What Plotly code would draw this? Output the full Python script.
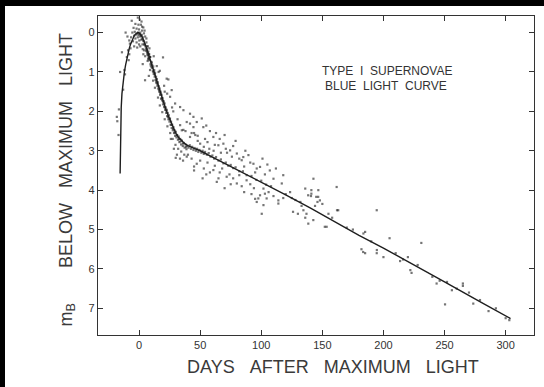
import plotly.graph_objects as go

# Mean blue light curve of Type I supernovae (days after max, mag below max)
curve_days = [-15.5, -15.3, -15.0, -14.6, -14.0, -13.0, -12.0, -11.0, -10.0, -9.0,
              -8.0, -7.0, -6.0, -5.0, -4.0, -3.0, -2.0, -1.0, 0.0, 1.0, 2.0, 3.0,
              4.5, 6.0, 8.0, 10.0, 12.0, 14.0, 16.0, 18.0, 20.0, 22.0, 24.0, 26.0,
              28.0, 30.0, 32.0, 34.0, 36.0, 38.0, 40.0, 45.0, 50.0, 60.0, 70.0,
              80.0, 90.0, 100.0, 110.0, 120.0, 140.0, 160.0, 180.0, 200.0, 216.0,
              250.0, 280.0, 304.0]
curve_mags = [3.58, 3.1, 2.45, 1.9, 1.55, 1.22, 1.0, 0.82, 0.66, 0.52,
              0.4, 0.3, 0.21, 0.14, 0.08, 0.04, 0.01, 0.0, 0.01, 0.04, 0.08, 0.14,
              0.25, 0.38, 0.58, 0.78, 0.99, 1.2, 1.41, 1.6, 1.78, 1.95, 2.12, 2.28,
              2.42, 2.55, 2.65, 2.72, 2.78, 2.83, 2.87, 2.94, 3.0, 3.16, 3.32,
              3.47, 3.62, 3.78, 3.95, 4.12, 4.45, 4.8, 5.15, 5.47, 5.74,
              6.33, 6.85, 7.26]

# Individual observations, grouped by phase of the light curve
rise_pts = [(-18.2, 2.14), (-17.8, 2.25), (-16.5, 1.95), (-15.5, 1.0), (-14.0, 0.5),
            (-13.0, 1.45), (-12.0, 0.95), (-11.5, 1.06), (-10.0, 0.62), (-9.0, 0.45),
            (-8.5, 0.7), (-7.5, 0.28), (-16.8, 2.6), (-11.0, 0.0), (-9.5, 0.1),
            (-8.0, 0.2)]

peak_pts = [(-6.0, -0.30), (-1.0, -0.38), (0.5, -0.33), (2.0, -0.28), (-3.0, -0.22),
            (1.5, -0.20), (3.5, -0.13), (-4.5, -0.12), (-2.0, -0.10), (0.0, -0.08),
            (2.5, -0.05), (-5.5, 0.0), (-3.5, -0.02), (-1.5, 0.02), (1.0, 0.0),
            (4.0, 0.02), (-6.5, 0.12), (-4.0, 0.08), (-2.5, 0.05), (-0.5, 0.06),
            (0.8, 0.1), (2.2, 0.06), (3.0, 0.12), (5.0, 0.1), (-5.0, 0.22),
            (-3.0, 0.15), (-1.0, 0.12), (1.8, 0.18), (3.8, 0.22), (4.5, 0.3),
            (6.0, 0.25), (-2.0, 0.25), (0.2, 0.2), (2.8, 0.3), (5.5, 0.4),
            (7.0, 0.35), (6.5, 0.5), (4.0, 0.45), (8.0, 0.55), (7.5, 0.68),
            (5.0, 0.6), (9.0, 0.62), (3.0, 0.42), (-7.0, 0.4), (-8.0, 0.55),
            (1.0, 0.35), (6.0, 0.15), (8.5, 0.4), (-0.5, -0.2), (2.5, -0.15),
            (-4.0, 0.35), (4.5, -0.05), (0.0, 0.3), (-1.5, 0.38), (3.5, 0.55),
            (-0.8, 0.0), (0.6, 0.04), (1.6, 0.08), (2.6, 0.16), (3.4, 0.2),
            (4.2, 0.3), (5.2, 0.34), (5.8, 0.46), (6.8, 0.56), (7.8, 0.64)]

decline_pts = [(6.2, 0.45), (6.8, 0.35), (7.1, 0.52), (7.6, 0.48), (8.0, 0.66),
               (8.3, 0.55), (8.7, 0.7), (9.1, 0.62), (9.4, 0.8), (9.8, 0.74),
               (10.2, 0.88), (10.5, 0.76), (10.9, 0.9), (11.3, 0.98), (11.6, 0.86),
               (12.0, 1.05), (12.4, 0.95), (12.8, 1.12), (13.1, 1.02), (13.5, 1.2),
               (13.9, 1.12), (14.2, 1.28), (14.6, 1.18), (15.0, 1.35), (15.3, 1.26),
               (15.7, 1.42), (16.1, 1.36), (16.5, 1.5), (16.8, 1.42), (17.2, 1.58),
               (17.6, 1.5), (18.0, 1.68), (18.4, 1.58), (18.8, 1.72), (19.2, 1.66),
               (19.6, 1.82), (20.0, 1.74), (20.5, 1.88), (20.9, 1.8), (21.3, 1.96),
               (21.8, 1.9), (22.2, 2.04), (22.6, 1.96), (23.0, 2.12), (23.5, 2.04),
               (24.0, 2.2), (24.4, 2.1), (24.9, 2.26), (25.3, 2.18), (25.8, 2.34),
               (26.2, 2.26), (26.7, 2.42), (27.1, 2.34), (27.6, 2.48), (28.1, 2.4),
               (28.6, 2.55), (29.0, 2.48), (29.5, 2.62), (30.1, 2.52), (30.6, 2.66),
               (31.2, 2.6), (31.8, 2.72), (32.4, 2.64), (33.0, 2.78), (33.7, 2.7),
               (34.4, 2.84), (35.0, 2.74), (35.8, 2.88), (36.5, 2.8), (37.3, 2.92),
               (38.0, 2.84), (38.8, 2.96), (39.5, 2.88),
               (6.5, 0.42), (7.4, 0.58), (8.5, 0.62), (9.6, 0.84), (10.7, 0.82),
               (11.8, 1.0), (12.9, 1.06), (14.0, 1.24), (15.1, 1.3), (16.3, 1.46),
               (17.4, 1.54), (18.6, 1.66), (19.8, 1.76), (21.0, 1.9), (22.4, 1.98),
               (23.7, 2.14), (25.0, 2.2), (26.4, 2.34), (27.8, 2.44), (29.2, 2.54),
               (30.8, 2.6), (32.6, 2.7), (34.0, 2.76), (36.0, 2.82), (38.4, 2.9),
               (7.0, 0.72), (9.0, 0.95), (11.5, 1.22), (13.0, 1.4), (15.5, 1.65),
               (17.0, 1.85), (19.0, 2.02), (21.0, 2.2), (23.2, 2.38), (25.5, 2.55),
               (27.5, 2.7), (29.8, 2.85), (32.0, 2.95), (34.5, 3.02), (37.0, 3.1),
               (39.0, 3.15), (28.5, 2.95), (31.0, 3.1), (33.5, 3.2), (26.0, 2.7),
               (36.0, 3.25), (30.0, 3.18),
               (17.0, 0.97), (19.6, 0.63), (24.0, 1.19), (22.6, 1.17), (26.7, 1.46),
               (29.5, 1.8), (33.6, 1.89), (36.3, 1.97), (41.7, 2.06), (39.0, 2.27),
               (47.2, 2.27), (52.6, 2.4), (55.0, 2.36), (35.0, 2.48), (41.7, 2.65),
               (25.4, 1.63), (44.5, 2.14), (51.3, 2.18), (41.7, 2.31), (44.5, 2.4),
               (36.3, 2.47), (33.6, 2.35), (12.0, 0.6), (14.5, 0.85), (20.5, 1.35),
               (23.0, 1.55), (28.0, 2.0), (31.5, 2.2), (38.0, 2.5), (43.0, 2.55),
               (46.0, 2.6), (27.0, 1.9), (21.0, 1.5), (16.0, 1.0),
               (4.9, 1.21), (3.0, 0.8), (8.0, 1.1)]

plateau_pts = [(40.5, 2.92), (41.5, 2.86), (42.5, 2.95), (43.5, 2.9), (44.5, 2.98),
               (45.5, 2.93), (46.5, 3.0), (47.5, 2.95), (48.5, 3.03), (49.5, 2.98),
               (51.0, 3.05), (52.0, 3.0), (53.0, 3.08), (54.0, 3.03), (55.5, 3.1),
               (57.0, 3.06), (58.5, 3.15), (60.0, 3.12), (61.5, 3.2), (63.0, 3.16),
               (65.0, 3.25), (67.0, 3.22), (69.0, 3.32), (71.0, 3.3), (73.0, 3.38),
               (75.0, 3.36), (77.0, 3.44), (79.0, 3.42), (82.0, 3.52), (85.0, 3.52),
               (88.0, 3.62), (92.0, 3.64), (96.0, 3.74), (100.0, 3.76), (104.0, 3.86),
               (108.0, 3.9),
               (45.0, 2.55), (48.0, 2.62), (50.0, 2.82), (54.0, 2.7), (56.0, 2.78),
               (58.0, 2.5), (60.8, 2.65), (62.0, 2.85), (64.9, 2.86), (66.0, 2.7),
               (69.0, 2.82), (71.0, 2.95), (72.0, 3.05), (74.5, 2.99), (77.0, 2.88),
               (80.0, 3.07), (82.0, 3.2), (85.3, 3.16), (84.0, 3.24), (87.0, 3.0),
               (89.5, 3.11), (91.0, 3.3), (93.6, 3.33), (96.3, 3.45), (99.0, 3.41),
               (101.0, 3.2), (105.0, 3.35), (107.0, 3.5), (110.0, 3.71), (112.0, 3.45),
               (118.0, 3.62), (116.8, 3.83), (48.0, 2.75), (53.0, 2.9), (57.5, 2.95),
               (61.0, 3.0), (67.0, 3.05), (63.0, 2.55), (70.0, 2.6), (76.0, 3.15),
               (79.0, 2.75), (86.0, 3.4), (95.0, 3.55), (103.0, 3.6),
               (40.0, 3.1), (43.0, 3.2), (47.2, 3.33), (45.0, 3.4), (50.0, 3.25),
               (53.0, 3.45), (56.0, 3.3), (60.8, 3.49), (62.0, 3.38), (63.6, 3.79),
               (66.0, 3.55), (68.0, 3.45), (71.7, 3.66), (74.0, 3.6), (77.0, 3.7),
               (80.0, 3.83), (82.0, 3.62), (84.0, 3.9), (88.0, 3.75), (91.0, 3.85),
               (94.0, 3.95), (96.3, 4.3), (95.0, 4.22), (97.6, 4.21), (99.0, 4.13),
               (100.4, 4.6), (101.8, 4.38), (101.8, 3.96), (103.0, 4.09), (104.4, 4.21),
               (106.0, 4.05), (110.0, 4.15), (114.0, 4.26), (114.0, 4.34), (118.0, 4.2),
               (58.0, 3.55), (65.0, 3.7), (75.0, 3.85), (86.0, 4.05), (92.0, 4.1),
               (55.0, 3.6), (70.0, 3.95), (45.0, 3.5), (52.0, 3.7)]

tail_pts = [(123.6, 4.05), (126.0, 4.55), (130.0, 4.6), (134.5, 4.51), (136.0, 4.7),
            (138.5, 4.85), (136.0, 3.96), (138.4, 4.13), (141.0, 4.0), (141.0, 4.09),
            (140.7, 4.15), (142.7, 3.71), (146.7, 4.0), (146.6, 4.17), (148.0, 4.26),
            (145.0, 4.17), (146.0, 4.3), (137.0, 4.6), (142.6, 4.76), (152.0, 4.93),
            (153.5, 4.93), (161.7, 3.92), (163.0, 4.51), (162.0, 4.51), (128.0, 4.25),
            (132.0, 4.3), (150.0, 4.35), (155.0, 4.6), (144.0, 4.4), (158.0, 4.7),
            (125.0, 4.2), (120.0, 4.1), (133.0, 4.4),
            (185.0, 5.06), (183.6, 5.1), (183.4, 5.57), (182.0, 5.5), (185.0, 5.6),
            (194.5, 4.51), (205.0, 5.22), (200.0, 5.7), (194.6, 5.52), (194.5, 5.6),
            (220.0, 5.7), (222.0, 6.03), (223.0, 6.1), (231.0, 5.34), (213.6, 5.8),
            (243.5, 6.37), (252.0, 6.33), (250.4, 6.9), (256.0, 6.54), (265.0, 6.37),
            (265.0, 6.43), (273.5, 6.88), (279.0, 6.79), (286.0, 7.07), (300.0, 7.25),
            (303.0, 7.3), (170.0, 4.95), (175.0, 5.0), (190.0, 5.3), (210.0, 5.6),
            (240.0, 6.2), (246.0, 6.3), (260.0, 6.5), (270.0, 6.6), (292.0, 7.0),
            (216.0, 5.76), (228.0, 5.9)]

x_ticks = [0, 50, 100, 150, 200, 250, 300]
y_ticks = [0, 1, 2, 3, 4, 5, 6, 7]

obs = rise_pts + peak_pts + decline_pts + plateau_pts + tail_pts
obs_days = [p[0] for p in obs]
obs_mags = [p[1] for p in obs]

font_family = "Liberation Sans, Arial, sans-serif"
NB = "\u00a0"

L, R, T, B = 98, 10, 16, 52
W, H = 544, 387
pw, ph = W - L - R, H - T - B

def px_x(px):
    return (px - L) / pw

def px_y(py):
    return (H - B - py) / ph

fig = go.Figure()
fig.add_trace(go.Scatter(
    x=obs_days, y=obs_mags, mode="markers",
    marker=dict(symbol="square", size=2.2, color="rgba(25,25,25,0.6)"),
    showlegend=False))
fig.add_trace(go.Scatter(
    x=curve_days, y=curve_mags, mode="lines",
    line=dict(color="#1e1e1e", width=1.4),
    showlegend=False))

axis_common = dict(
    showline=True, linecolor="#333", linewidth=1.4, mirror="ticks",
    ticks="inside", ticklen=5, tickwidth=1.2, tickcolor="#333",
    showgrid=False, zeroline=False,
    tickfont=dict(family=font_family, size=11, color="#333"),
)

fig.update_xaxes(range=[-33.6, 323.2], tickvals=x_ticks, **axis_common)
fig.update_yaxes(range=[7.677, -0.421], tickvals=y_ticks, **axis_common)

# dark frame strips along the top and left edges of the page
frame = [
    dict(type="rect", xref="paper", yref="paper", layer="above",
         x0=-0.3, x1=1.1, y0=1.031, y1=1.06, fillcolor="black", line=dict(width=0)),
    dict(type="rect", xref="paper", yref="paper", layer="above",
         x0=-0.3, x1=-0.2133, y0=-0.2, y1=1.06, fillcolor="black", line=dict(width=0)),
]

annotations = [
    dict(text=f"TYPE{NB*2}I{NB*2}SUPERNOVAE", xref="paper", yref="paper",
         x=px_x(386.5), y=px_y(61.5), showarrow=False,
         font=dict(family=font_family, size=12, color="#333")),
    dict(text=f"BLUE{NB*2}LIGHT{NB*2}CURVE", xref="paper", yref="paper",
         x=px_x(385.5), y=px_y(77.5), showarrow=False,
         font=dict(family=font_family, size=12, color="#333")),
    dict(text=f"DAYS{NB*3}AFTER{NB*3}MAXIMUM{NB*3}LIGHT", xref="paper", yref="paper",
         x=px_x(332.5), y=px_y(379), showarrow=False,
         font=dict(family=font_family, size=18, color="#3a3a3a")),
    dict(text=f"m<sub>B</sub>{NB*7}BELOW{NB*3}MAXIMUM{NB*3}LIGHT",
         xref="paper", yref="paper", textangle=-90,
         x=px_x(53), y=px_y(180), showarrow=False,
         font=dict(family=font_family, size=18, color="#3a3a3a")),
]

fig.update_layout(
    width=W, height=H,
    margin=dict(l=L, r=R, t=T, b=B, pad=0),
    paper_bgcolor="white", plot_bgcolor="white",
    showlegend=False, hovermode=False,
    shapes=frame, annotations=annotations,
)

fig.write_html("out.html")
